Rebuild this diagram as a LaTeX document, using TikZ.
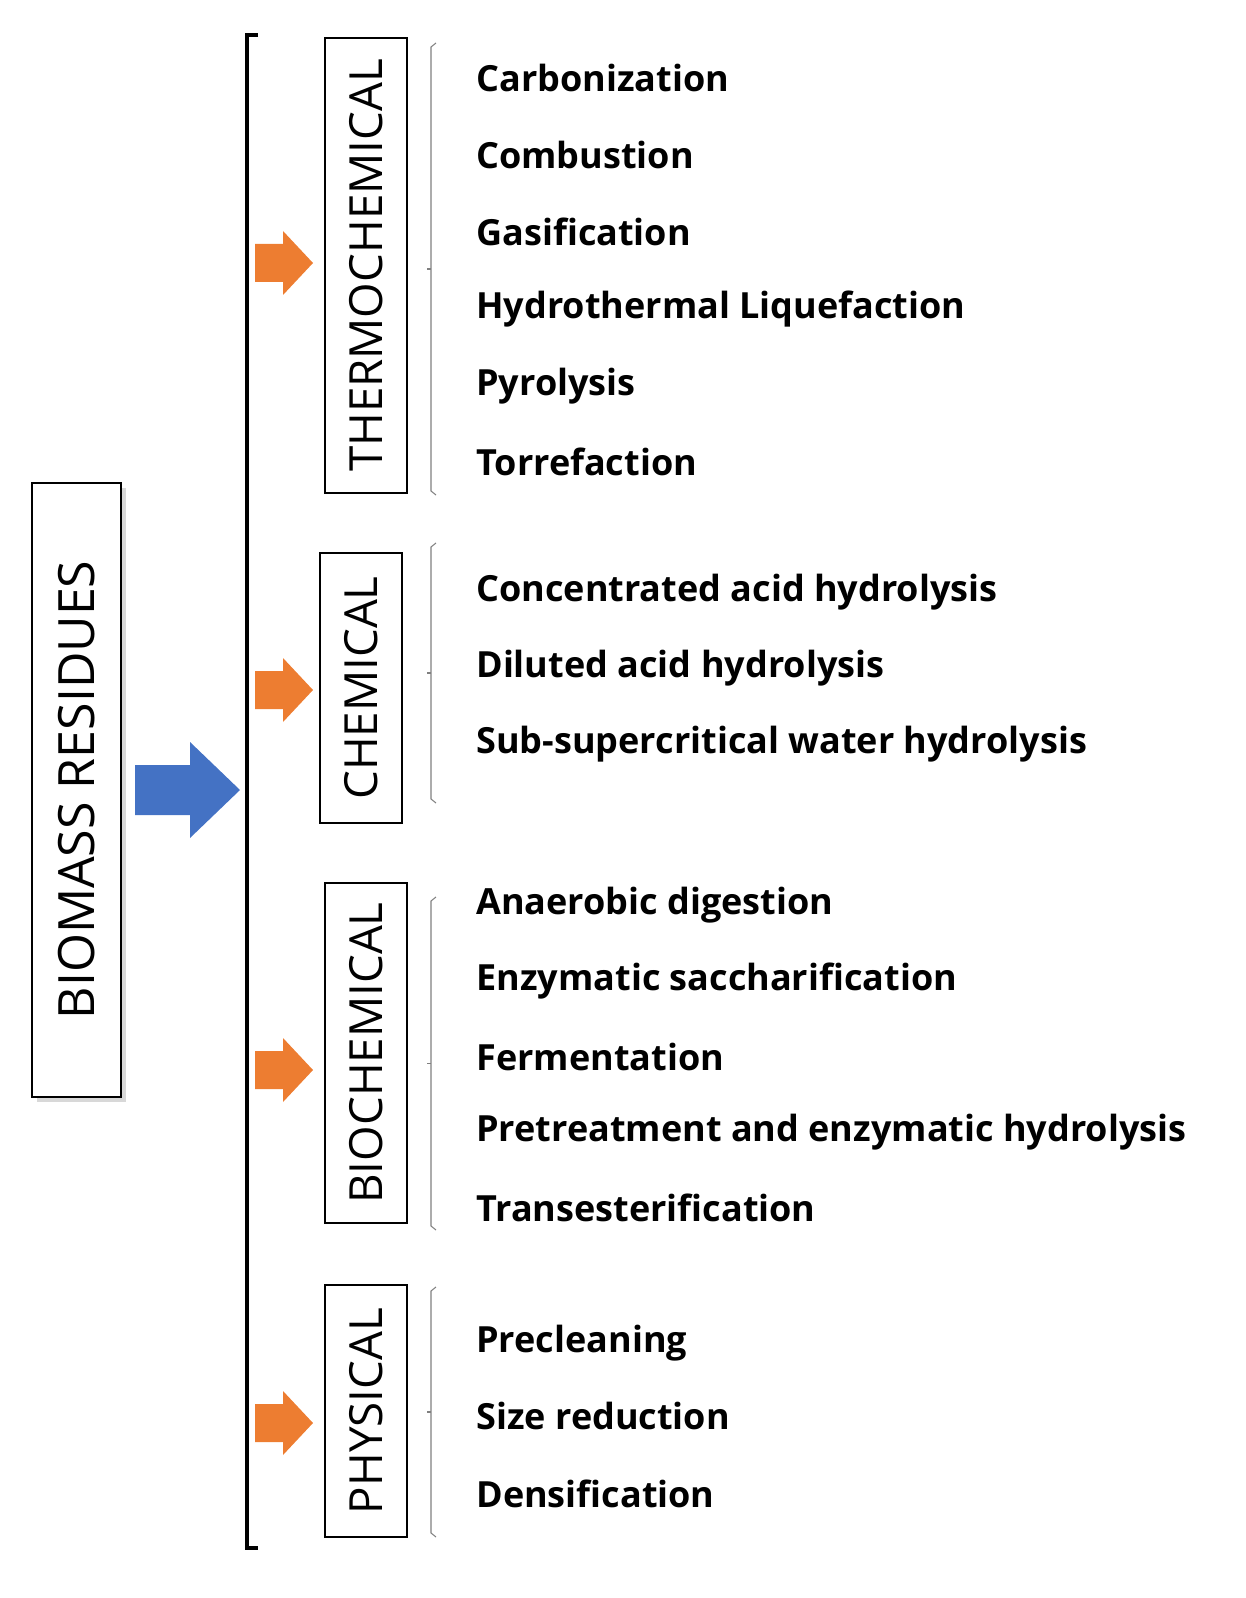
\documentclass[tikz,border=0pt]{standalone}
\usepackage{fontspec}
\setmainfont{Open Sans}
\usetikzlibrary{shadows}
\definecolor{blueA}{HTML}{4472C4}
\definecolor{orangeA}{HTML}{ED7D31}
\begin{document}
\begin{tikzpicture}[x=0.02cm,y=-0.02cm,
  cat/.style={draw,line width=1.6pt,rotate=90,inner sep=0pt,font=\fontsize{26}{26}\selectfont},
  item/.style={anchor=west,inner sep=0pt,font=\fontsize{20.5}{21}\selectfont\bfseries},
  brace/.style={draw=gray,line width=0.6pt}]
\useasboundingbox (0,0) rectangle (1246,1598);
% main box
\node[cat,fill=white,line width=1.2pt,drop shadow={shadow xshift=3pt,shadow yshift=-3pt,fill=gray!60},minimum width=12.28cm,minimum height=1.78cm,font=\fontsize{28.5}{28.5}\selectfont] (bio) at (76.5,790) {BIOMASS RESIDUES};
% blue arrow
\coordinate (br) at (247,790);
\fill[blueA] (135,765) -- (190,765) -- (190,742) -- (240,790) -- (190,838) -- (190,815) -- (135,815) -- cycle;
% big bracket
\draw[line width=2.2pt] (258,35) -- (247,35) -- (247,1548) -- (258,1548);
% orange arrows
\foreach \y in {263,690,1070,1423}
  \fill[orangeA] (255,\y-19) -- (283,\y-19) -- (283,\y-32) -- (313,\y) -- (283,\y+32) -- (283,\y+19) -- (255,\y+19) -- cycle;
% category boxes
\node[cat,minimum width=9.1cm,minimum height=1.64cm] (th) at (366,265.5) {THERMOCHEMICAL};
\node[cat,minimum width=5.4cm,minimum height=1.64cm] (ch) at (361,688) {CHEMICAL};
\node[cat,minimum width=6.8cm,minimum height=1.64cm] (bc) at (366,1053) {BIOCHEMICAL};
\node[cat,minimum width=5.04cm,minimum height=1.64cm] (ph) at (366,1411) {PHYSICAL};
% braces
\foreach \a/\b in {43/495,543/803,897/1230,1287/1537}{
  \draw[brace] (436,\a) -- (431,\a+4) -- (431,\b-4) -- (436,\b);
  \draw[brace] (431,{(\a+\b)/2}) -- (427,{(\a+\b)/2});
}
% items
\foreach \t/\y [count=\i] in {Carbonization/78,Combustion/155,Gasification/232,Hydrothermal Liquefaction/309,Pyrolysis/386,Torrefaction/462}
  \node[item] (t\i) at (476,\y) {\t};
\foreach \t/\y [count=\i] in {Concentrated acid hydrolysis/592,Diluted acid hydrolysis/668,Sub-supercritical water hydrolysis/744}
  \node[item] (c\i) at (476,\y) {\t};
\foreach \t/\y [count=\i] in {Anaerobic digestion/905,Enzymatic saccharification/981,Fermentation/1057,Pretreatment and enzymatic hydrolysis/1132,Transesterification/1208}
  \node[item] (b\i) at (476,\y) {\t};
\foreach \t/\y [count=\i] in {Precleaning/1343,Size reduction/1416,Densification/1494}
  \node[item] (p\i) at (476,\y) {\t};
\end{tikzpicture}
\end{document}
